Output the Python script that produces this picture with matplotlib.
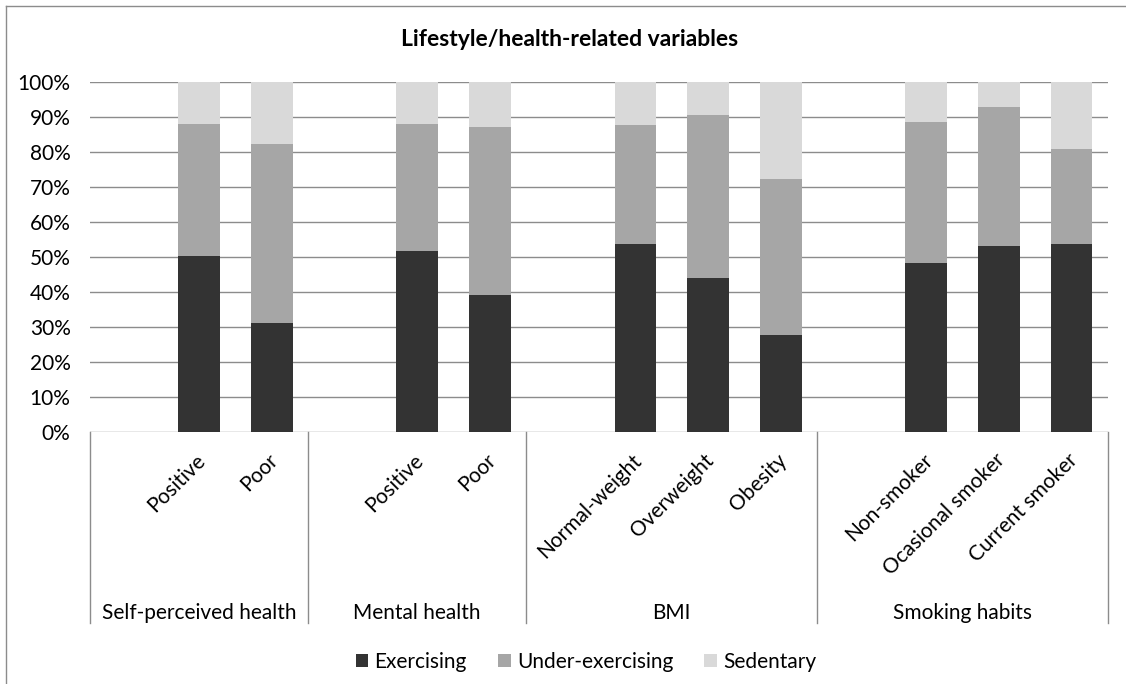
import matplotlib
matplotlib.use("Agg")
import matplotlib.pyplot as plt
import matplotlib.transforms as mtransforms
from matplotlib.lines import Line2D
from matplotlib.patches import Patch

plt.rcParams['font.family'] = ['Lato', 'DejaVu Sans']

# ---- data -------------------------------------------------------------
title = "Lifestyle/health-related variables"
groups = ["Self-perceived health", "Mental health", "BMI", "Smoking habits"]
categories = [
    ["Positive", "Poor"],
    ["Positive", "Poor"],
    ["Normal-weight", "Overweight", "Obesity"],
    ["Non-smoker", "Ocasional smoker", "Current smoker"],
]
exercising = [50.2, 31.0, 51.6, 39.1, 53.6, 43.9, 27.6, 48.3, 53.1, 53.7]
under_exercising = [37.7, 51.2, 36.4, 48.0, 33.9, 46.6, 44.6, 40.2, 39.7, 27.1]
sedentary = [12.1, 17.8, 12.0, 12.9, 12.5, 9.5, 27.8, 11.5, 7.2, 19.2]
series_names = ["Exercising", "Under-exercising", "Sedentary"]
series_colors = ["#333333", "#a6a6a6", "#d9d9d9"]
yticks = [0, 10, 20, 30, 40, 50, 60, 70, 80, 90, 100]

FS = 15

# ---- layout of slots: one empty slot opens every group -----------------
xs, labels, seps, mids = [], [], [], []
pos = 0
for cats in categories:
    start = pos - 0.5
    seps.append(start)
    pos += 1
    for c in cats:
        xs.append(pos)
        labels.append(c)
        pos += 1
    mids.append((start + pos - 0.5) / 2)
seps.append(pos - 0.5)
nslots = pos

W, H = 1126, 684
fig = plt.figure(figsize=(W / 100, H / 100), dpi=100)
ax = fig.add_axes([90 / W, 1 - 431.7 / H, 1018 / W, 350 / H])

grid_col = "#8c8c8c"
bottoms = [0] * len(xs)
for vals, col in zip([exercising, under_exercising, sedentary], series_colors):
    ax.bar(xs, vals, bottom=bottoms, width=0.57, color=col, edgecolor='none', zorder=3)
    bottoms = [b + v for b, v in zip(bottoms, vals)]

ax.set_xlim(-0.5, nslots - 0.5)
ax.set_ylim(0, 100)
ax.set_yticks(yticks)
ax.set_yticklabels([f"{v}%" for v in yticks])
ax.yaxis.grid(True, color=grid_col, lw=1)
ax.set_axisbelow(True)
ax.set_xticks([])
ax.tick_params(axis='y', length=0, pad=14, labelsize=FS)
for s in ax.spines.values():
    s.set_visible(False)

# category axis frame
trans = mtransforms.blended_transform_factory(ax.transData, ax.transAxes)
y_bot = (431.7 - 623) / 350
for sx in seps:
    ax.plot([sx, sx], [0, y_bot], transform=trans, clip_on=False, color=grid_col, lw=1)

# rotated category labels
lbl_trans = trans + mtransforms.ScaledTranslation(3 / 100, 0, fig.dpi_scale_trans)
for x, lab in zip(xs, labels):
    ax.text(x, (431.7 - 457) / 350, lab, transform=lbl_trans, rotation=45,
            rotation_mode='anchor', ha='right', va='center', fontsize=FS)

# group labels
for m, g in zip(mids, groups):
    ax.text(m, (431.7 - 613) / 350, g, transform=trans, ha='center', va='center', fontsize=FS)

fig.text(570 / W, 1 - 40 / H, title, ha='center', va='center', fontsize=16.5, fontweight='bold')

handles = [Patch(facecolor=c, edgecolor='none') for c in series_colors]
fig.legend(handles, series_names, loc='center', bbox_to_anchor=(586 / W, 1 - 662 / H),
           ncol=3, frameon=False, fontsize=FS, handlelength=0.6, handleheight=0.6,
           handletextpad=0.3, columnspacing=1.5)

# chart area border
fig.add_artist(Line2D([6 / W, 6 / W], [0, 1 - 6 / H], transform=fig.transFigure, color=grid_col, lw=1))
fig.add_artist(Line2D([6 / W, 1], [1 - 6 / H, 1 - 6 / H], transform=fig.transFigure, color=grid_col, lw=1))

fig.savefig("out.png", dpi=100)
